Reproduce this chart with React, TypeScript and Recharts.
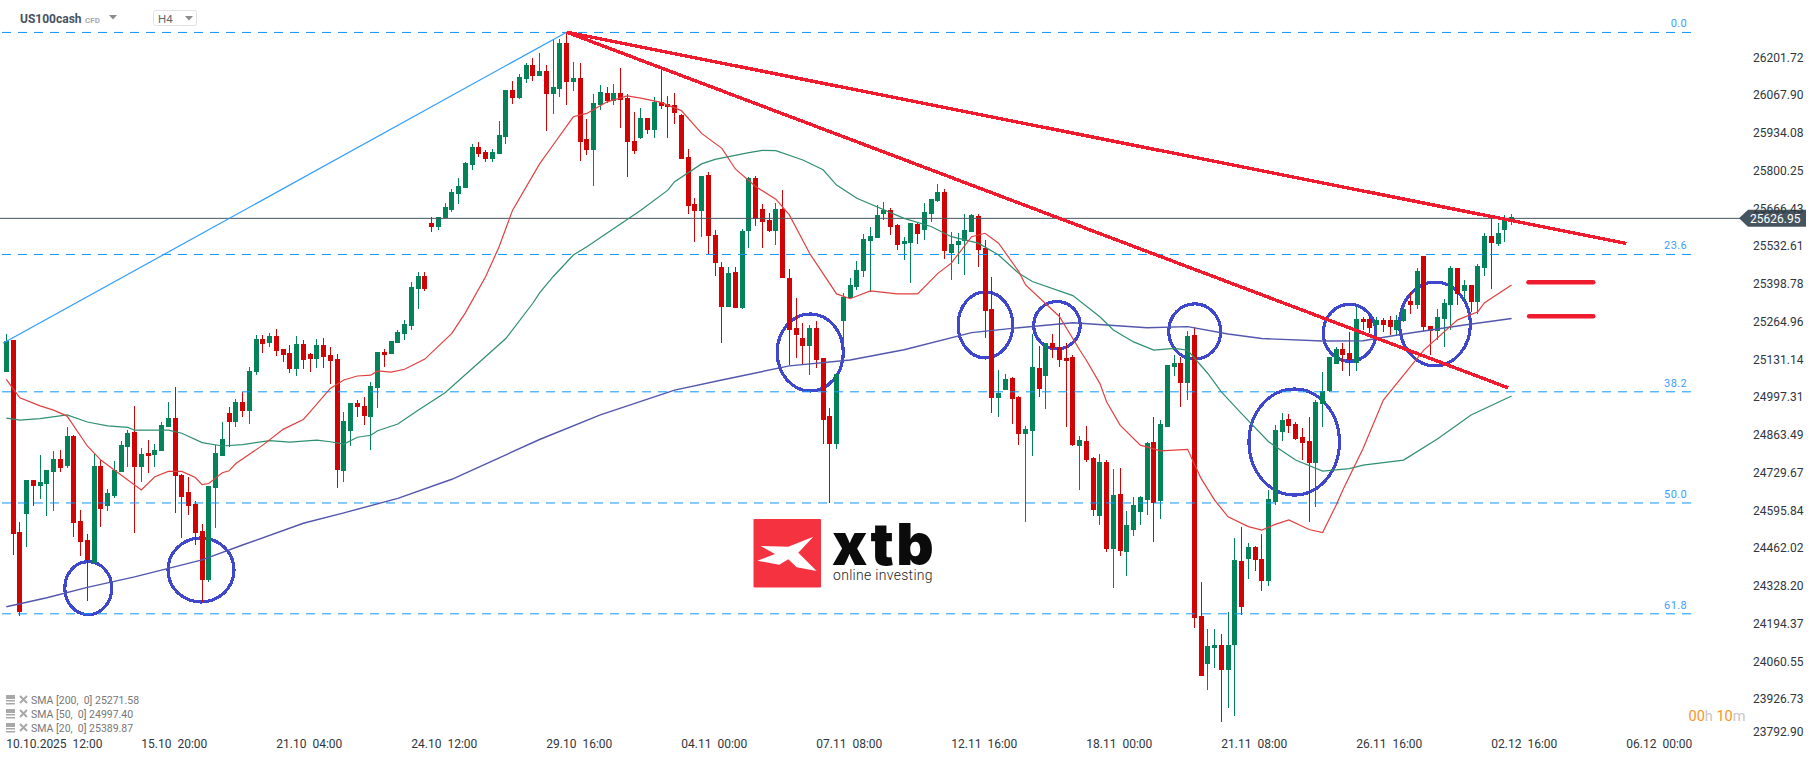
import React from "react";
import {
  ComposedChart,
  Bar,
  Line,
  XAxis,
  YAxis,
  ReferenceLine,
  ReferenceArea,
} from "recharts";

// H4 candles, prices
const opens = [
  25082,25196,24515,24579,24699,24678,24685,24728,24774,24749,
  24855,24554,24487,24404,24749,24607,24643,24728,24816,24869,
  24745,24795,24788,24802,24887,24919,24717,24657,24614,24518,
  24345,24671,24784,24937,24905,24976,24944,25082,25199,25185,
  25210,25164,25149,25093,25181,25146,25128,25178,25142,25128,
  24731,24873,24972,24962,24923,25025,25153,25146,25185,25217,
  25245,25376,25423,25610,25596,25627,25656,25713,25734,25816,
  25880,25862,25837,25855,25915,26082,26053,26121,26170,26131,
  26149,26068,26085,26248,26110,26124,25908,25869,26029,26071,
  26043,26071,26053,25901,25912,25983,25940,26039,26032,26029,
  25993,25844,25678,25653,25781,25568,25454,25313,25437,25309,
  25582,25770,25660,25621,25582,25660,25416,25239,25203,25175,
  25239,25132,24927,24827,25263,25345,25384,25441,25547,25558,
  25643,25657,25604,25536,25540,25607,25586,25643,25689,25721,
  25504,25533,25547,25579,25636,25522,25306,24990,25019,25061,
  24994,24863,24873,25097,25068,25185,25171,25132,25136,24820,
  24837,24777,24572,24763,24455,24649,24445,24522,24586,24628,
  24834,24625,24887,25100,25114,25043,25213,24217,24047,24104,
  24115,24026,24115,24412,24419,24462,24419,24341,24621,24870,
  24916,24898,24852,24838,24760,24969,25015,25111,25164,25150,
  25114,25270,25270,25249,25267,25267,25231,25263,25334,25320,
  25493,25245,25228,25270,25320,25451,25369,25391,25330,25451,
  25564,25536,25586,25621,
];
const closes = [
  25192,24508,24231,24699,24678,24692,24735,24774,24742,24855,
  24547,24479,24416,24749,24596,24653,24735,24823,24866,24745,
  24791,24784,24806,24894,24919,24713,24639,24607,24511,24345,
  24678,24795,24845,24905,24976,24944,25086,25199,25181,25210,
  25157,25142,25093,25181,25125,25128,25178,25135,25121,24735,
  24908,24972,24958,24926,25032,25153,25142,25192,25224,25252,
  25384,25423,25376,25596,25632,25667,25720,25742,25823,25880,
  25855,25837,25862,25922,26082,26053,26128,26170,26131,26149,
  26068,26092,26248,26110,26124,25898,25869,26036,26075,26043,
  26071,26046,25898,25866,25983,25940,26039,26025,26022,26000,
  25837,25671,25653,25777,25564,25469,25313,25433,25309,25582,
  25770,25625,25614,25582,25660,25416,25231,25214,25175,25239,
  25125,24912,24827,25075,25348,25391,25444,25554,25565,25639,
  25658,25597,25533,25547,25611,25572,25650,25696,25721,25511,
  25536,25547,25586,25639,25515,25299,24990,25008,25058,24987,
  24863,24880,25100,25022,25185,25168,25125,25122,24824,24841,
  24770,24593,24763,24455,24646,24448,24540,24611,24639,24830,
  24617,24898,25107,25114,25043,25210,24210,24005,24111,24115,
  24026,24115,24416,24249,24462,24416,24341,24632,24877,24912,
  24891,24845,24831,24760,24976,25015,25135,25164,25143,25125,
  25270,25259,25238,25267,25249,25242,25267,25306,25320,25440,
  25242,25228,25277,25327,25451,25359,25391,25330,25458,25564,
  25540,25575,25621,25632,
];
const highs = [
  25217,25196,24550,24699,24699,24788,24735,24802,24806,24887,
  24859,24593,24508,24791,24770,24666,24767,24837,24876,24962,
  24813,24841,24827,24905,24976,25029,24721,24710,24625,24543,
  24678,24823,24905,24958,24986,25011,25100,25213,25213,25220,
  25236,25164,25178,25210,25196,25149,25199,25203,25171,25146,
  24940,24972,24983,24993,25047,25153,25164,25192,25231,25267,
  25401,25437,25437,25632,25632,25681,25731,25770,25827,25890,
  25898,25869,25873,25972,26082,26114,26139,26178,26195,26213,
  26170,26259,26263,26287,26181,26178,25979,26068,26100,26092,
  26103,26160,26068,26004,26018,25983,26057,26156,26061,26071,
  25997,25873,25699,25777,25791,25586,25472,25454,25454,25589,
  25773,25777,25678,25646,25682,25728,25448,25345,25256,25249,
  25263,25132,24955,25075,25363,25416,25476,25572,25597,25675,
  25685,25664,25607,25561,25611,25611,25682,25696,25749,25731,
  25579,25575,25643,25643,25643,25551,25419,25090,25075,25065,
  24997,24891,25217,25175,25185,25217,25292,25185,25143,24856,
  24890,24780,24791,24770,24738,24742,24590,24640,24643,24834,
  24922,24912,25107,25142,25135,25227,25242,24338,24171,24171,
  24153,24231,24494,24533,24476,24466,24508,24664,24894,24937,
  24933,24905,24884,24923,24983,25082,25135,25171,25185,25224,
  25313,25277,25280,25277,25274,25281,25285,25320,25366,25451,
  25493,25245,25306,25341,25458,25451,25408,25391,25465,25575,
  25632,25610,25639,25642,
];
const lows = [
  25082,24433,24217,24462,24607,24632,24572,24589,24728,24742,
  24497,24430,24270,24404,24533,24589,24635,24728,24745,24511,
  24692,24724,24745,24802,24887,24582,24494,24575,24469,24267,
  24338,24529,24784,24816,24887,24923,24898,25071,25149,25171,
  25139,25118,25079,25068,25093,25082,25096,25096,25040,24671,
  24692,24820,24923,24894,24806,24954,25100,25146,25185,25196,
  25231,25306,25369,25578,25586,25627,25649,25678,25734,25798,
  25844,25827,25827,25855,25890,26032,26050,26107,26114,26131,
  25936,25997,26057,26029,26078,25830,25851,25742,26011,26036,
  26029,25947,25773,25855,25908,25926,25912,26014,25912,25961,
  25837,25642,25543,25561,25499,25422,25185,25313,25309,25305,
  25522,25600,25522,25579,25533,25416,25107,25132,25107,25072,
  25097,24827,24618,24810,25172,25345,25373,25419,25366,25558,
  25621,25568,25515,25480,25398,25536,25550,25614,25685,25483,
  25409,25465,25426,25579,25455,25203,24937,24923,25019,24898,
  24824,24551,24785,24994,24951,25132,25100,24888,24820,24664,
  24763,24572,24540,24445,24317,24430,24360,24500,24540,24575,
  24480,24560,24887,25068,24958,24983,24175,24005,23955,24033,
  23842,23891,23863,24221,24348,24377,24306,24324,24611,24838,
  24866,24841,24770,24551,24604,24887,25011,25111,25086,25068,
  25086,25232,25220,25231,25224,25214,25210,25259,25288,25306,
  25228,25142,25196,25172,25231,25320,25334,25295,25288,25423,
  25376,25529,25543,25603,
];

// moving averages, [candle number, price] read at the bends
const sma20: [number, number][] = [
  [0,25056],[2,24991],[5,24962],[7,24947],[9,24926],[12,24820],[14,24770],[17,24717],[20,24664],
  [22,24711],[24,24730],[26,24730],[28,24708],[29,24683],[30,24687],[32,24725],[33,24732],[34,24758],
  [38,24823],[41,24879],[44,24914],[45,24941],[48,25024],[50,25054],[52,25068],[54,25071],[55,25086],
  [57,25082],[59,25092],[62,25128],[66,25219],[68,25292],[71,25420],[73,25526],[75,25656],[79,25820],
  [81,25887],[84,25987],[86,25999],[89,26040],[92,26061],[94,26053],[97,26038],[100,26009],[103,25928],
  [106,25875],[108,25802],[111,25740],[114,25695],[116,25639],[119,25503],[123,25359],[125,25342],
  [128,25370],[132,25359],[135,25359],[138,25432],[140,25468],[143,25562],[145,25574],[147,25539],
  [150,25438],[151,25391],[156,25279],[159,25161],[160,25124],[162,25042],[163,24977],[165,24894],
  [168,24823],[171,24803],[175,24808],[177,24705],[179,24628],[181,24569],[184,24534],[186,24522],
  [188,24542],[190,24558],[193,24524],[195,24513],[197,24610],[198,24664],[201,24811],[204,24983],
  [210,25160],[215,25267],[218,25296],[219,25328],[223,25391],
];
const sma50: [number, number][] = [
  [0,24919],[2,24912],[5,24917],[9,24930],[12,24905],[15,24891],[18,24886],[19,24876],[24,24876],
  [26,24865],[29,24832],[32,24820],[35,24825],[39,24839],[42,24834],[46,24841],[48,24835],[50,24827],
  [52,24851],[54,24858],[55,24874],[58,24898],[61,24947],[65,25009],[74,25201],[78,25326],[79,25363],
  [81,25420],[84,25497],[86,25526],[94,25656],[98,25727],[99,25757],[103,25820],[105,25836],[110,25860],
  [112,25868],[114,25867],[118,25834],[121,25799],[123,25745],[126,25698],[133,25627],[137,25598],
  [140,25562],[144,25539],[147,25497],[150,25432],[152,25403],[158,25353],[162,25278],[164,25231],
  [167,25189],[170,25160],[173,25166],[175,25160],[178,25077],[180,25012],[183,24935],[187,24835],
  [191,24770],[195,24731],[199,24740],[201,24752],[207,24770],[212,24845],[217,24930],[223,24997],
];
const sma200: [number, number][] = [
  [0,24250],[6,24282],[12,24319],[19,24356],[29,24416],[35,24469],[44,24546],[50,24583],[58,24634],
  [66,24702],[79,24843],[88,24930],[99,25018],[106,25054],[116,25104],[125,25125],[133,25161],[143,25222],
  [149,25237],[158,25257],[169,25239],[175,25243],[181,25217],[186,25201],[195,25192],[201,25193],
  [207,25217],[211,25231],[216,25249],[223,25272],
];

const priceTicks = [
  26201.72,26067.9,25934.08,25800.25,25666.43,25532.61,25398.78,25264.96,25131.14,
  24997.31,24863.49,24729.67,24595.84,24462.02,24328.2,24194.37,24060.55,23926.73,23792.9,
];
const timeTicks = [0,20,40,60,80,100,120,140,160,180,200,220,240];
const timeLabels = [
  "10.10.2025  12:00","15.10  20:00","21.10  04:00","24.10  12:00","29.10  16:00","04.11  00:00",
  "07.11  08:00","12.11  16:00","18.11  00:00","21.11  08:00","26.11  16:00","02.12  16:00","06.12  00:00",
];

const lastPrice = 25626.95;
const fibPrices = [26286,25499,25012,24618,24225];
const fibLabels = ["0.0","23.6","38.2","50.0","61.8"];
const fibSpan = [-0.64,249.6];

// drawn by hand on the chart: [from candle, from price, to candle, to price]
const swingLine = [-0.5,25184,83,26287];
const redTrends = [
  [83,26287,240,25538],
  [83,26287,222.5,25026],
];
const redMarks = [
  [225.5,25400,235.1,25400],
  [225.6,25280,235.1,25280],
];
// hand drawn circles: [from candle, to candle, low price, high price]
const rings = [
  [8.66,15.62,24222,24410],
  [23.95,33.73,24267,24494],
  [114.2,124,25015,25288],
  [141,149.1,25132,25366],
  [152.2,159.1,25164,25332],
  [172.2,179.9,25128,25324],
  [184.1,197.5,24646,25022],
  [195.1,202.9,25120,25322],
  [206.4,216.9,25104,25401],
];

const legendRows = ["SMA [200,  0] 25271.58","SMA [50,  0] 24997.40","SMA [20,  0] 25389.87"];

const lookup = (pts: [number, number][]) => new Map(pts.map(([i, v]) => [i, v]));
const s20 = lookup(sma20);
const s50 = lookup(sma50);
const s200 = lookup(sma200);

const table = opens.map((open, i) => ({
  i,
  open,
  close: closes[i],
  high: highs[i],
  low: lows[i],
  range: [lows[i], highs[i]],
  s20: s20.get(i) ?? null,
  s50: s50.get(i) ?? null,
  s200: s200.get(i) ?? null,
}));

const font = "Roboto, sans-serif";
const GREEN = "#04825a";
const RED = "#d00404";
const FIB = "#0a96ff";

const Candle = (props: any) => {
  const { x, y, width, height, payload } = props;
  const k = height / (payload.high - payload.low);
  const up = payload.close >= payload.open;
  const top = y + (payload.high - Math.max(payload.open, payload.close)) * k;
  const h = Math.max(Math.abs(payload.open - payload.close) * k, 1);
  const mid = x + width / 2;
  const color = up ? GREEN : RED;
  return (
    <g shapeRendering="crispEdges">
      <rect x={Math.round(mid - 0.5)} y={y} width={1} height={height} fill={color} />
      <rect x={Math.round(mid - 2.5)} y={top} width={5} height={h} fill={color} />
    </g>
  );
};

const PriceTick = (props: any) => {
  const { x, y, payload } = props;
  // the lowest label is pushed up so it stays clear of the time axis
  const dy = payload.value < 23800 ? -4 : 1;
  return (
    <text x={x - 5} y={y + dy} dy="0.36em" fontFamily={font} fontSize={12} fill="#2f363d">
      {payload.value.toFixed(2)}
    </text>
  );
};

const TimeTick = (props: any) => {
  const { x, y, payload } = props;
  const label = timeLabels[timeTicks.indexOf(payload.value)];
  return (
    <text x={x} y={y - 4.5} dy="0.71em" fontFamily={font} fontSize={12} fill="#2f363d" style={{ whiteSpace: "pre" }}>
      {label}
    </text>
  );
};

const Ring = (props: any) => {
  const { x, y, width, height } = props;
  return (
    <ellipse
      cx={x + width / 2}
      cy={y + height / 2}
      rx={width / 2}
      ry={height / 2}
      fill="none"
      stroke="#3f48cc"
      strokeWidth={3.2}
      shapeRendering="crispEdges"
    />
  );
};

const PriceTag = (props: any) => {
  const { viewBox } = props;
  const tip = viewBox.x + viewBox.width - 11;
  const cy = viewBox.y;
  return (
    <g>
      <polygon
        points={`${tip},${cy} ${tip + 9},${cy - 8.5} ${tip + 67},${cy - 8.5} ${tip + 67},${cy + 8.5} ${tip + 9},${cy + 8.5}`}
        fill="#46545f"
      />
      <text x={tip + 11} y={cy} dy="0.36em" fontFamily={font} fontSize={12} fill="#fff">
        {lastPrice.toFixed(2)}
      </text>
    </g>
  );
};

const segment = (s: number[]) => [
  { x: s[0], y: s[1] },
  { x: s[2], y: s[3] },
];

const Overlay = () => (
  <svg
    width={1815}
    height={761}
    style={{ position: "absolute", left: 0, top: 0, pointerEvents: "none" }}
    fontFamily={font}
  >
    <text x={20} y={23} fontSize={12} fontWeight={700} fill="#46525e">US100cash</text>
    <text x={85} y={22.5} fontSize={8} fontWeight={700} fill="#a9a9a9">CFD</text>
    <polygon points="109,15 117,15 113,19.5" fill="#8b8b8b" />
    <rect x={153.5} y={10.5} width={43} height={15} rx={2} fill="#fff" stroke="#e2e2e2" />
    <text x={158} y={24} fontSize={11.5} fill="#666" dy={-1}>H4</text>
    <polygon points="185,16 193,16 189,20.5" fill="#8b8b8b" />

    {legendRows.map((row, i) => (
      <g key={row} transform={`translate(0, ${700 + i * 14})`}>
        <rect x={6} y={-5} width={9} height={4} fill="#a8a8a8" />
        <rect x={6} y={0} width={9} height={1.5} fill="#a8a8a8" />
        <rect x={6} y={3} width={9} height={1.5} fill="#a8a8a8" />
        <path d="M20 -4 L27 3 M27 -4 L20 3" stroke="#a8a8a8" strokeWidth={2} />
        <text x={31} y={0} dy="0.36em" fontSize={10.5} fill="#777" style={{ whiteSpace: "pre" }}>{row}</text>
      </g>
    ))}

    <rect x={753.5} y={519} width={67.5} height={68.5} rx={1} fill="#f53240" />
    <polygon
      points="760.7,546 788.3,546.7 813.3,536.7 798.3,552.7 816.7,571 796.7,567.3 788.3,559.3 779.3,564.7 757.3,560.7 775,554"
      fill="#fff"
    />
    <text x={832} y={565} fontFamily="Inter, sans-serif" fontWeight={900} fontSize={58} letterSpacing={2.5} fill="#0b0b0b">xtb</text>
    <text x={833} y={580} fontSize={14} letterSpacing={0.3} fontWeight={300} fill="#222">online investing</text>

    <text x={1688.5} y={721} fontSize={14.5}>
      <tspan fill="#f7931e">00</tspan>
      <tspan fill="#c6c6c6">h </tspan>
      <tspan fill="#f7931e">10</tspan>
      <tspan fill="#c6c6c6">m</tspan>
    </text>
  </svg>
);

export default function App() {
  return (
    <div style={{ position: "absolute", left: 0, top: 0, width: 1815, height: 761, background: "#fff", overflow: "hidden" }}>
      <ComposedChart width={1815} height={761} data={table} margin={{ top: 0, right: 0, bottom: 0, left: 0 }}>
        <XAxis
          dataKey="i"
          type="number"
          domain={[-0.938, 258.32]}
          allowDataOverflow
          ticks={timeTicks}
          interval={0}
          height={25}
          axisLine={false}
          tickLine={false}
          tick={<TimeTick />}
        />
        <YAxis
          orientation="right"
          type="number"
          domain={[23791.9, 26401]}
          allowDataOverflow
          ticks={priceTicks}
          interval={0}
          width={65}
          axisLine={false}
          tickLine={false}
          tick={<PriceTick />}
        />

        {fibPrices.map((p, i) => (
          <ReferenceLine
            key={p}
            segment={[{ x: fibSpan[0], y: p }, { x: fibSpan[1], y: p }]}
            stroke={FIB}
            strokeWidth={1}
            strokeDasharray="9 7"
            label={(lp: any) => (
              <text
                x={lp.viewBox.x + lp.viewBox.width - 4}
                y={lp.viewBox.y - 5}
                textAnchor="end"
                fontFamily={font}
                fontSize={11}
                letterSpacing={0.4}
                fill="#3aa0ff"
              >
                {fibLabels[i]}
              </text>
            )}
          />
        ))}
        <ReferenceLine y={lastPrice} stroke="#46545f" strokeWidth={1} label={<PriceTag />} />
        <ReferenceLine segment={segment(swingLine)} stroke="#2f9dff" strokeWidth={1.2} />

        <Bar dataKey="range" barSize={5} shape={<Candle />} isAnimationActive={false} />
        <Line dataKey="s200" stroke="#5257ad" strokeWidth={1.4} dot={false} activeDot={false} connectNulls isAnimationActive={false} />
        <Line dataKey="s50" stroke="#2f8f70" strokeWidth={1.2} dot={false} activeDot={false} connectNulls isAnimationActive={false} />
        <Line dataKey="s20" stroke="#e04040" strokeWidth={1.2} dot={false} activeDot={false} connectNulls isAnimationActive={false} />

        {redTrends.map((s) => (
          <ReferenceLine key={s[3]} segment={segment(s)} stroke="#ee1c2e" strokeWidth={3.4} shapeRendering="crispEdges" />
        ))}
        {redMarks.map((s) => (
          <ReferenceLine key={s[1]} segment={segment(s)} stroke="#ee1c2e" strokeWidth={4.5} strokeLinecap="round" />
        ))}
        {rings.map((r) => (
          <ReferenceArea key={r[0]} x1={r[0]} x2={r[1]} y1={r[2]} y2={r[3]} shape={<Ring />} />
        ))}
      </ComposedChart>
      <Overlay />
    </div>
  );
}
